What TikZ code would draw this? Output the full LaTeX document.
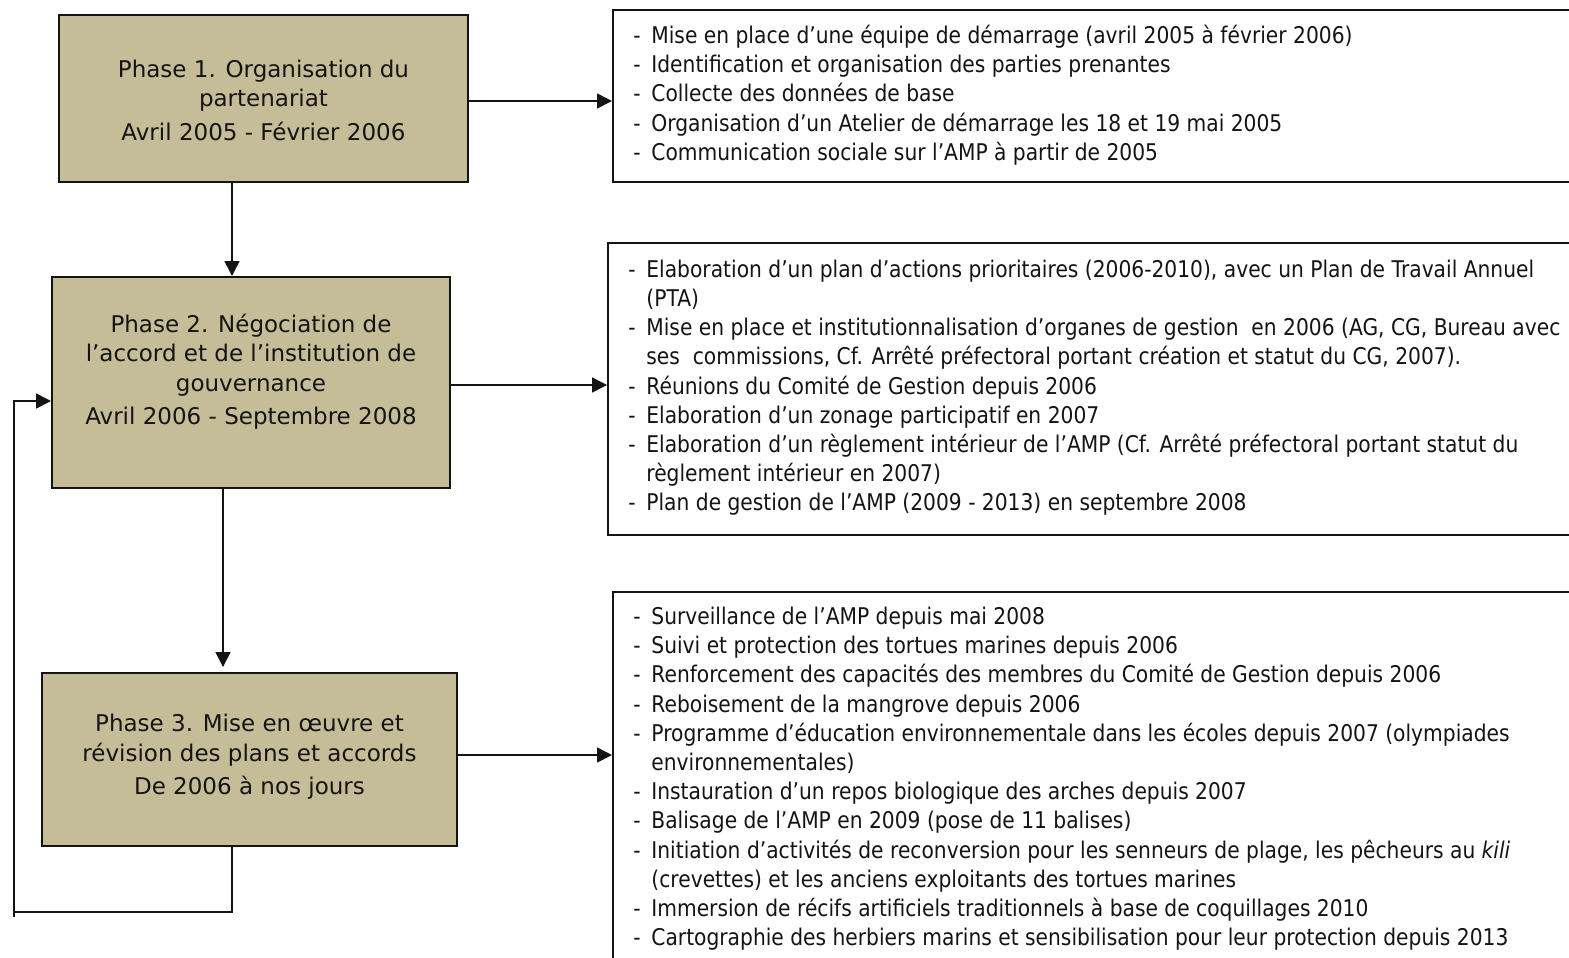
\documentclass[tikz,border=0pt]{standalone}
\usepackage{fontspec}
\setmainfont{DejaVu Sans}
\newfontfamily\listfont[FakeStretch=0.88]{DejaVu Sans}
\usetikzlibrary{arrows.meta}
\definecolor{phasefill}{RGB}{196,189,151}
\definecolor{ink}{RGB}{20,20,20}
% list item marker and continuation indent
\newcommand\itm{\strut\makebox[9pt][l]{-}}
\newcommand\cnt{\strut\hspace*{9pt}}

\begin{document}
\begin{tikzpicture}[x=0.5pt,y=-0.5pt,
  phasebox/.style={draw=ink, line width=1pt, fill=phasefill, inner sep=0pt},
  phasetext/.style={align=center, inner sep=0pt, text=ink,
    font=\fontsize{11.5}{14.75}\selectfont},
  listbox/.style={draw=ink, line width=1pt, fill=white, inner sep=0pt},
  listtext/.style={align=left, inner sep=0pt, anchor=north west, text=ink,
    font=\listfont\fontsize{11.5}{14.6}\selectfont},
  conn/.style={draw=ink, line width=0.8pt, -{Triangle[length=7.5pt,width=7.5pt]}},
  link/.style={draw=ink, line width=0.8pt}]

\clip (0,0) rectangle (1569,958);
\fill[white] (0,0) rectangle (1569,958);

% phase boxes
\node[phasebox, minimum width=204.5pt, minimum height=83.5pt] (p1) at (263.5,98.5) {};
\node[phasebox, minimum width=199pt, minimum height=105.5pt] (p2) at (251,382.5) {};
\node[phasebox, minimum width=207.5pt, minimum height=86.5pt] (p3) at (249.5,759.5) {};

\node[phasetext] (p1t) at (263.5,100) {Phase 1. Organisation du\\ partenariat\\[2pt] Avril 2005 - Février 2006};
\node[phasetext] (p2t) at (251,371.5) {Phase 2. Négociation de\\ l’accord et de l’institution de\\ gouvernance\\[2pt] Avril 2006 - Septembre 2008};
\node[phasetext] (p3t) at (249.5,757) {Phase 3. Mise en œuvre et\\ révision des plans et accords\\[2pt] De 2006 à nos jours};

% activity boxes
\node[listbox, minimum width=483.5pt, minimum height=86pt] (r1) at (1096.5,96) {};
\node[listbox, minimum width=486pt, minimum height=146pt] (r2) at (1094,389) {};
\node[listbox, minimum width=483.5pt, minimum height=189pt] (r3) at (1096.5,781) {};

\node[listtext] (r1t) at (633,22.6) {%
\itm Mise en place d’une équipe de démarrage (avril 2005 à février 2006)\\
\itm Identification et organisation des parties prenantes\\
\itm Collecte des données de base\\
\itm Organisation d’un Atelier de démarrage les 18 et 19 mai 2005\\
\itm Communication sociale sur l’AMP à partir de 2005};

\node[listtext] (r2t) at (628,256.4) {%
\itm Elaboration d’un plan d’actions prioritaires (2006-2010), avec un Plan de Travail Annuel\\
\cnt (PTA)\\
\itm Mise en place et institutionnalisation d’organes de gestion\ \ en 2006 (AG, CG, Bureau avec\\
\cnt ses\ \ commissions, Cf. Arrêté préfectoral portant création et statut du CG, 2007).\\
\itm Réunions du Comité de Gestion depuis 2006\\
\itm Elaboration d’un zonage participatif en 2007\\
\itm Elaboration d’un règlement intérieur de l’AMP (Cf. Arrêté préfectoral portant statut du\\
\cnt règlement intérieur en 2007)\\
\itm Plan de gestion de l’AMP (2009 - 2013) en septembre 2008};

\node[listtext] (r3t) at (633,603.6) {%
\itm Surveillance de l’AMP depuis mai 2008\\
\itm Suivi et protection des tortues marines depuis 2006\\
\itm Renforcement des capacités des membres du Comité de Gestion depuis 2006\\
\itm Reboisement de la mangrove depuis 2006\\
\itm Programme d’éducation environnementale dans les écoles depuis 2007 (olympiades\\
\cnt environnementales)\\
\itm Instauration d’un repos biologique des arches depuis 2007\\
\itm Balisage de l’AMP en 2009 (pose de 11 balises)\\
\itm Initiation d’activités de reconversion pour les senneurs de plage, les pêcheurs au \textit{kili}\\
\cnt (crevettes) et les anciens exploitants des tortues marines\\
\itm Immersion de récifs artificiels traditionnels à base de coquillages 2010\\
\itm Cartographie des herbiers marins et sensibilisation pour leur protection depuis 2013};

% connector guide positions
\coordinate (h1) at (0,101);
\coordinate (h2) at (0,385);
\coordinate (h3) at (0,755);
\coordinate (v1) at (232,0);
\coordinate (v2) at (223,0);
\coordinate (fb) at (0,401);
\coordinate (lc) at (14,912);
\coordinate (lt) at (14,917);

% phase to activities
\draw[conn] (p1.east |- h1) -- (r1.west |- h1);
\draw[conn] (p2.east |- h2) -- (r2.west |- h2);
\draw[conn] (p3.east |- h3) -- (r3.west |- h3);

% phase sequence
\draw[conn] (p1.south -| v1) -- (p2.north -| v1);
\draw[conn, shorten >=2.5pt] (p2.south -| v2) -- (p3.north -| v2);

% feedback loop from phase 3 back to phase 2
\draw[link] (p3.south -| v1) |- (lc);
\draw[conn] (lt) |- (p2.west |- fb);
\end{tikzpicture}
\end{document}
